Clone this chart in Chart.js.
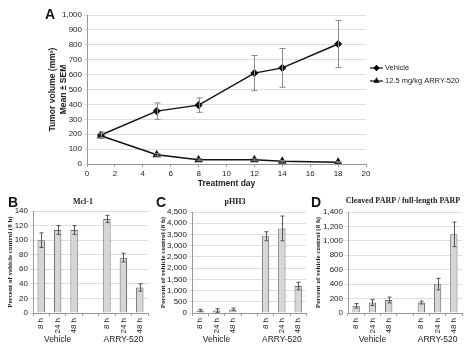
<!DOCTYPE html>
<html>
<head>
<meta charset="utf-8">
<script src="https://cdn.jsdelivr.net/npm/chart.js@4.4.0/dist/chart.umd.min.js"></script>
<style>
  body { margin: 0; background: #fff; }
  #wrap { position: relative; width: 474px; height: 354px; overflow: hidden; }
  canvas { position: absolute; }
  .letter { position: absolute; font: bold 14px "Liberation Sans", Arial, sans-serif; color: #111; }
  .ttl { position: absolute; font: bold 8px "Liberation Serif", "Times New Roman", serif; color: #222; text-align: center; white-space: nowrap; transform: translateX(-50%); }
</style>
</head>
<body>
<div id="wrap">
  <canvas id="chartA" width="474" height="190" style="left:0;top:0"></canvas>
  <canvas id="chartB" width="155" height="164" style="left:0;top:190px"></canvas>
  <canvas id="chartC" width="155" height="164" style="left:155px;top:190px"></canvas>
  <canvas id="chartD" width="164" height="164" style="left:310px;top:190px"></canvas>
  <div class="letter" style="left:45px;top:6px">A</div>
  <div class="letter" style="left:8px;top:194px">B</div>
  <div class="letter" style="left:156px;top:194px">C</div>
  <div class="letter" style="left:311px;top:194px">D</div>
  <div class="ttl" style="left:83px;top:197px">Mcl-1</div>
  <div class="ttl" style="left:235px;top:197px">pHH3</div>
  <div class="ttl" style="left:403px;top:196px">Cleaved PARP / full-length PARP</div>
</div>
<script>
// 패널 A 데이터 (치료일 / 종양 부피)
var days = [1, 5, 8, 12, 14, 18];
var vehicleVol = [195, 355, 395, 610, 645, 805];
var vehicleErr = [20, 55, 48, 118, 130, 158];
var arryVol = [190, 62, 28, 28, 18, 12];
var arryErr = [12, 8, 6, 6, 5, 4];

// 막대 차트 공통 카테고리
var barCats = ['8 h', '24 h', '48 h', '', '8 h', '24 h', '48 h'];
var groupLabels = ['', 'Vehicle', '', '', '', 'ARRY-520', ''];

// 패널 B, C, D 값
var mcl1 = [100, 114, 114, null, 129, 76, 35];
var mcl1Err = [10, 6, 6, null, 5, 6, 5];
var phh3 = [110, 110, 160, null, 3420, 3770, 1200];
var phh3Err = [50, 80, 60, null, 200, 550, 170];
var parp = [100, 145, 180, null, 145, 400, 1090];
var parpErr = [30, 40, 40, null, 20, 80, 170];

var tickFont = { family: '"Liberation Sans", Arial, sans-serif', size: 8 };
var gridColor = '#dedede';
var axisColor = '#999';

function fmt(v) { return Number(v).toLocaleString('en-US'); }

// 오차 막대 그리기 플러그인
var errorBars = {
  id: 'errorBars',
  afterDatasetsDraw: function(chart, args, opts) {
    var ctx = chart.ctx;
    var yScale = chart.scales.y;
    chart.data.datasets.forEach(function(ds, di) {
      if (!ds.errors) return;
      var meta = chart.getDatasetMeta(di);
      ctx.save();
      ctx.strokeStyle = opts.color || '#555';
      ctx.lineWidth = 1;
      meta.data.forEach(function(el, i) {
        var v = ds.data[i];
        if (v && typeof v === 'object') v = v.y;
        var e = ds.errors[i];
        if (v == null || e == null) return;
        var x = Math.round(el.x) + 0.5;
        var top = yScale.getPixelForValue(v + e);
        var bot = yScale.getPixelForValue(Math.max(v - e, 0));
        var cap = opts.cap || 2;
        ctx.beginPath();
        ctx.moveTo(x, top); ctx.lineTo(x, bot);
        ctx.moveTo(x - cap, top); ctx.lineTo(x + cap, top);
        ctx.moveTo(x - cap, bot); ctx.lineTo(x + cap, bot);
        ctx.stroke();
      });
      ctx.restore();
    });
  }
};

// 패널 A 범례 (선 + 마커)
var lineLegend = {
  id: 'lineLegend',
  afterDraw: function(chart) {
    var ctx = chart.ctx;
    var x0 = chart.chartArea.right + 4;
    chart.data.datasets.forEach(function(ds, i) {
      var y = 68 + i * 13;
      ctx.save();
      ctx.strokeStyle = '#111';
      ctx.lineWidth = 1.2;
      ctx.beginPath(); ctx.moveTo(x0, y); ctx.lineTo(x0 + 13, y); ctx.stroke();
      Chart.helpers.drawPoint(ctx, { pointStyle: ds.pointStyle, radius: 2.5, borderWidth: 1 }, x0 + 6.5, y);
      ctx.fillStyle = '#222';
      ctx.font = '7.5px "Liberation Sans", Arial, sans-serif';
      ctx.textBaseline = 'middle';
      ctx.fillText(ds.label, x0 + 15, y);
      ctx.restore();
    });
  }
};

new Chart(document.getElementById('chartA'), {
  type: 'line',
  data: {
    datasets: [{
      label: 'Vehicle',
      data: days.map(function(d, i) { return { x: d, y: vehicleVol[i] }; }),
      errors: vehicleErr,
      borderColor: '#111', backgroundColor: '#111', borderWidth: 1.5,
      pointStyle: 'rectRot', pointRadius: 3
    }, {
      label: '12.5 mg/kg ARRY-520',
      data: days.map(function(d, i) { return { x: d, y: arryVol[i] }; }),
      errors: arryErr,
      borderColor: '#111', backgroundColor: '#111', borderWidth: 1.5,
      pointStyle: 'triangle', pointRadius: 3.5
    }]
  },
  options: {
    responsive: false, animation: false,
    layout: { padding: { left: 48, right: 108, top: 15, bottom: 1 } },
    plugins: { legend: { display: false }, tooltip: { enabled: false }, errorBars: { color: '#888', cap: 3 } },
    scales: {
      x: {
        type: 'linear', min: 0, max: 20,
        ticks: { stepSize: 2, font: tickFont, color: '#222', padding: 2 },
        grid: { display: true, drawOnChartArea: false, tickLength: 3, color: axisColor },
        border: { color: axisColor },
        title: { display: true, text: 'Treatment day', font: { family: tickFont.family, size: 8.5, weight: 'bold' }, color: '#222', padding: 0 },
        afterFit: function(s) { s.height = 25; }
      },
      y: {
        min: 0, max: 1000,
        ticks: { stepSize: 100, autoSkip: false, font: tickFont, color: '#222', callback: fmt, padding: 2 },
        grid: { color: gridColor, tickLength: 3 },
        border: { color: axisColor },
        title: { display: true, text: ['Tumor volume (mm³)', 'Mean ± SEM'], font: { family: tickFont.family, size: 8.5, weight: 'bold' }, color: '#222', padding: 0 },
        afterFit: function(s) { s.width = 39; }
      }
    }
  },
  plugins: [errorBars, lineLegend]
});

// 막대 차트 생성 함수
function barChart(id, values, errs, max, step, pad, yWidth) {
  new Chart(document.getElementById(id), {
    type: 'bar',
    data: {
      labels: barCats,
      datasets: [{
        data: values, errors: errs,
        backgroundColor: '#d6d6d6', borderColor: '#666', borderWidth: 1,
        barPercentage: 0.45, categoryPercentage: 1
      }]
    },
    options: {
      responsive: false, animation: false,
      layout: { padding: pad },
      plugins: { legend: { display: false }, tooltip: { enabled: false }, errorBars: { color: '#555', cap: 2 } },
      scales: {
        x: {
          ticks: { font: tickFont, color: '#222', minRotation: 90, maxRotation: 90, autoSkip: false, padding: 2 },
          grid: { display: true, drawOnChartArea: false, tickLength: 3, color: axisColor },
          border: { color: axisColor },
          afterFit: function(s) { s.height = 21; }
        },
        x2: {
          type: 'category', labels: groupLabels, position: 'bottom', offset: true, weight: 1,
          ticks: { font: { family: tickFont.family, size: 8.5 }, color: '#222', maxRotation: 0, autoSkip: false, padding: 1 },
          grid: { display: false, drawTicks: false, tickLength: 0 }, border: { display: false },
          afterFit: function(s) { s.height = 12; }
        },
        y: {
          min: 0, max: max,
          ticks: { stepSize: step, autoSkip: false, font: tickFont, color: '#222', callback: fmt, padding: 2 },
          grid: { color: gridColor, tickLength: 3 },
          border: { color: axisColor },
          title: { display: true, text: 'Percent of vehicle control (8 h)', font: { family: '"Liberation Serif", "Times New Roman", serif', size: 7, weight: 'bold' }, color: '#222', padding: 0 },
          afterFit: function(s) { s.width = yWidth; }
        }
      }
    },
    plugins: [errorBars]
  });
}

barChart('chartB', mcl1, mcl1Err, 140, 20, { left: 6, right: 7, top: 21, bottom: 8 }, 27);
barChart('chartC', phh3, phh3Err, 4500, 500, { left: 4, right: 3, top: 22, bottom: 8 }, 33);
barChart('chartD', parp, parpErr, 1400, 200, { left: 4, right: 12, top: 22, bottom: 8 }, 34);
</script>
</body>
</html>
